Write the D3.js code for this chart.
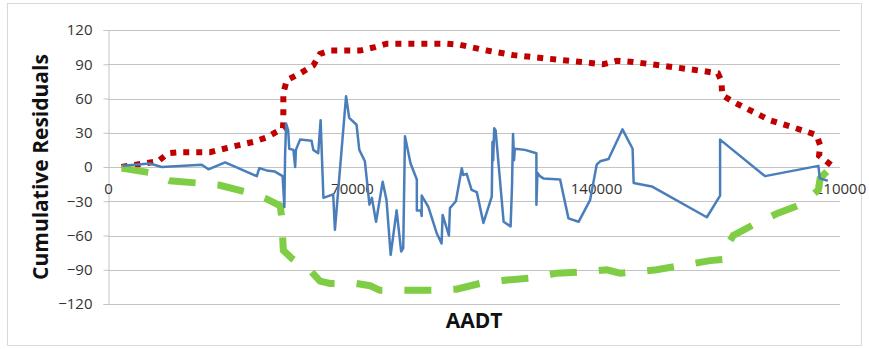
<!DOCTYPE html>
<html>
<head>
<meta charset="utf-8">
<script src="https://cdn.jsdelivr.net/npm/d3@7"></script>
<style>
  body { margin: 0; background: #fff; }
  text { font-family: "Open Sans", "Liberation Sans", sans-serif; }
</style>
</head>
<body>
<div id="chart"></div>
<script>
// Cumulative residuals (blue line) against AADT
const residAADT = [4200, 12000, 15400, 26900, 28800, 33600, 42700, 43400, 45500, 47900,
  50100, 50600, 50800, 51100, 51700, 52000, 53200, 53700, 53900, 55100,
  58400, 58900, 60300, 61000, 61300, 61800, 64600, 65100, 68300, 69200,
  71300, 72100, 73700, 75000, 75700, 76900, 78800, 79900, 81100, 82800,
  84100, 84700, 85200, 86800, 88600, 88600, 89700, 90000, 90000, 91900,
  94300, 95700, 96000, 97800, 98100, 99800, 101500, 101900, 102900, 104300,
  105800, 107700, 110100, 110300, 110500, 110800, 111200, 113500, 115500, 115900,
  116200, 116500, 116700, 119600, 122900, 122900, 123200, 123900, 124900, 129700,
  132100, 135000, 138300, 140200, 141200, 143600, 147600, 150500, 150800, 156000,
  171800, 175600, 175600, 188500, 203800, 204200, 206500];
const residValue = [1, 3, 0, 2, -2, 4, -8, -1, -3, -4,
  -8, -35, 10, 38, 32, 16, 15, 0, 15, 24,
  23, 15, 12, 41, 15, -27, -24, -55, 62, 43,
  37, 15, 5, -33, -27, -48, -13, -29, -77, -38,
  -74, -71, 27, 3, -11, -38, -38, -43, -25, -35,
  -58, -67, -42, -60, -36, -30, -1, -7, -6, -20,
  -22, -49, -26, 22, 6, 34, 32, -48, -52, -17,
  29, 6, 16, 15, 12, -33, -5, -8, -10, -11,
  -45, -48, -29, 2, 5, 7, 33, 16, -14, -17,
  -44, -25, 24, -8, 1, -10, -12];

// Upper bound (red dotted)
const upperAADT = [3900, 10100, 14400, 17200, 20700, 29300, 35900, 41700, 45600, 50200,
  50300, 50300, 51300, 55100, 58900, 60800, 63700, 72300, 76600, 80000,
  97200, 101000, 108700, 116300, 125900, 142100, 146000, 150700, 158400, 170800,
  175000, 176000, 176200, 179400, 189900, 199400, 203300, 204300, 204000, 208600];
const upperValue = [0, 3, 5, 12, 13, 13, 18, 22, 26, 34,
  41, 65, 76, 82, 89, 99, 102, 102, 105, 108,
  108, 107, 102, 98, 95, 90, 93, 92, 89, 84,
  82, 75, 63, 57, 41, 32, 28, 19, 10, -1];

// Lower bound (green dashed)
const lowerAADT = [3900, 12100, 17800, 25500, 32100, 39800, 45500, 49400, 49800, 50300,
  52700, 58400, 60800, 63700, 71300, 75200, 78000, 85700, 92900, 100000,
  106700, 114400, 122000, 128700, 136400, 143100, 146900, 150700, 157400, 165100,
  172700, 176500, 176500, 179400, 186100, 191800, 199500, 203800, 204300, 206200];
const lowerValue = [-1, -5, -12, -14, -16, -22, -28, -34, -43, -73,
  -80, -92, -100, -102, -102, -104, -108, -108, -108, -107,
  -102, -99, -97, -93, -92, -90, -93, -92, -90, -86,
  -82, -81, -74, -60, -49, -41, -32, -20, -10, -4];

const xTicks = [0, 70000, 140000, 210000];
const yTicks = [-120, -90, -60, -30, 0, 30, 60, 90, 120];

const W = 869, H = 349;
const margin = {top: 30, right: 29, bottom: 45, left: 108};
const width = W - margin.left - margin.right;
const height = H - margin.top - margin.bottom;

const svg = d3.select("#chart")
  .append("svg")
  .attr("width", W)
  .attr("height", H);

// chart area border
svg.append("rect")
  .attr("x", 7.5).attr("y", 3.5)
  .attr("width", 854).attr("height", 342)
  .attr("fill", "none")
  .attr("stroke", "#d9d9d9");

const g = svg.append("g")
  .attr("transform", `translate(${margin.left},${margin.top})`);

const x = d3.scaleLinear().domain([0, 210000]).range([0, width]);
const y = d3.scaleLinear().domain([-120, 120]).range([height, 0]);

// gridlines
g.append("g")
  .selectAll("line")
  .data(yTicks)
  .enter()
  .append("line")
  .attr("x1", 0).attr("x2", width)
  .attr("y1", d => Math.round(y(d)) + 0.5)
  .attr("y2", d => Math.round(y(d)) + 0.5)
  .attr("stroke", "#c4c4c4");

// y axis
const yAxis = g.append("g")
  .attr("transform", "translate(0.5,0)")
  .call(d3.axisLeft(y).tickValues(yTicks).tickSize(5).tickPadding(11));
yAxis.select(".domain").attr("stroke", "#c4c4c4");
yAxis.selectAll(".tick line").attr("stroke", "#c4c4c4");
yAxis.selectAll("text").attr("font-size", 15).attr("fill", "#333").attr("font-family", "Open Sans");

// x axis (crosses at 0)
const xAxis = g.append("g")
  .attr("transform", `translate(0, ${Math.round(y(0)) + 0.5})`)
  .call(d3.axisBottom(x).tickValues(xTicks).tickFormat(d3.format("d")).tickSize(0).tickPadding(16));
xAxis.select(".domain").remove();
xAxis.selectAll("text").attr("font-size", 15).attr("fill", "#333").attr("font-family", "Open Sans");

// axis titles
svg.append("text")
  .attr("transform", `translate(48, ${margin.top + height / 2}) rotate(-90)`)
  .attr("text-anchor", "middle")
  .attr("font-size", 21)
  .attr("font-weight", "bold")
  .attr("fill", "#111")
  .text("Cumulative Residuals");

svg.append("text")
  .attr("x", 474)
  .attr("y", 328)
  .attr("text-anchor", "middle")
  .attr("font-size", 21)
  .attr("font-weight", "bold")
  .attr("fill", "#111")
  .text("AADT");

// lines
const line = d3.line()
  .x(d => x(d[0]))
  .y(d => y(d[1]));

g.append("path")
  .datum(d3.zip(upperAADT, upperValue))
  .attr("fill", "none")
  .attr("stroke", "#c00000")
  .attr("stroke-width", 6)
  .attr("stroke-dasharray", "6,7")
  .attr("d", line);

g.append("path")
  .datum(d3.zip(lowerAADT, lowerValue))
  .attr("fill", "none")
  .attr("stroke", "#7fcc45")
  .attr("stroke-width", 7)
  .attr("stroke-dasharray", "27,22")
  .attr("d", line);

g.append("path")
  .datum(d3.zip(residAADT, residValue))
  .attr("fill", "none")
  .attr("stroke", "#4a7ebb")
  .attr("stroke-width", 2.5)
  .attr("stroke-linejoin", "round")
  .attr("d", line);
</script>
</body>
</html>
